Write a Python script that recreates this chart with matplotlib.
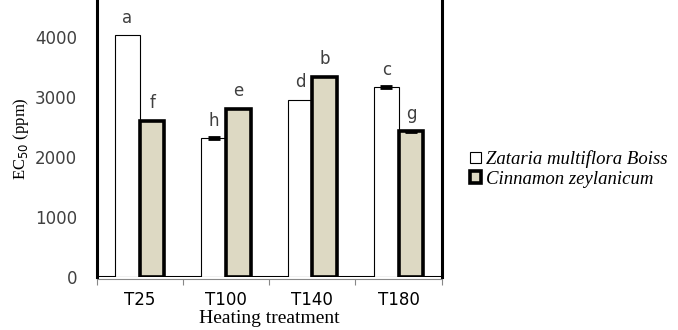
import numpy as np
import matplotlib
matplotlib.use("Agg")
import matplotlib.pyplot as plt
from matplotlib.patches import Patch

categories = ["T25", "T100", "T140", "T180"]
zataria = [4020, 2310, 2950, 3160]
cinnamon = [2600, 2800, 3330, 2420]
zataria_err = [0, 15, 0, 15]
cinnamon_err = [0, 0, 0, 10]
zataria_letters = ["a", "h", "d", "c"]
cinnamon_letters = ["f", "e", "b", "g"]
yticks = [0, 1000, 2000, 3000, 4000]

beige = "#DDD9C3"
txt = "#404040"

fig = plt.figure(figsize=(6.78, 3.30), dpi=100)
ax = fig.add_axes([0.1426, 0.1615, 0.5089, 0.8385])

x = np.arange(len(categories))
w = 0.285
ax.bar(x - w / 2, zataria, w, color="white", edgecolor="black", linewidth=0.8, zorder=2)
ax.bar(x + w / 2, cinnamon, w, color=beige, edgecolor="black", linewidth=2.6, zorder=3)

# only draw error bars that are non-zero
for i in range(len(categories)):
    if zataria_err[i] > 0:
        ax.errorbar(x[i] - w / 2, zataria[i], yerr=zataria_err[i], fmt="none", ecolor="black",
                    elinewidth=1.5, capsize=4, capthick=2, zorder=4)
    if cinnamon_err[i] > 0:
        ax.errorbar(x[i] + w / 2, cinnamon[i], yerr=cinnamon_err[i], fmt="none", ecolor="black",
                    elinewidth=1.5, capsize=4, capthick=2, zorder=4)

for i in range(len(categories)):
    ax.annotate(zataria_letters[i], (x[i] - w / 2, zataria[i]), xytext=(0, 6),
                textcoords="offset points", ha="center", va="bottom", fontsize=12, color=txt)
    ax.annotate(cinnamon_letters[i], (x[i] + w / 2, cinnamon[i]), xytext=(0, 6),
                textcoords="offset points", ha="center", va="bottom", fontsize=12, color=txt)

# thick zero line
ax.axhline(0, color="black", linewidth=2.2, zorder=1)

ax.set_xlim(-0.5, 3.5)
ax.set_ylim(0, 4610)
ax.set_yticks(yticks)
ax.set_yticklabels([str(v) for v in yticks], color=txt)
ax.tick_params(axis="y", length=0, pad=14, labelsize=12)

ax.set_xticks(np.arange(-0.5, 4, 1))
ax.set_xticklabels([])
ax.set_xticks(x, minor=True)
ax.set_xticklabels(categories, minor=True, color=txt)
ax.tick_params(axis="x", which="major", length=4, color="#888888", width=0.8)
ax.tick_params(axis="x", which="minor", length=0, pad=8, labelsize=12)

ax.spines["top"].set_visible(False)
ax.spines["left"].set_linewidth(2.2)
ax.spines["right"].set_linewidth(2.2)
ax.spines["bottom"].set_color("#888888")
ax.spines["bottom"].set_linewidth(0.8)
ax.spines["bottom"].set_position(("outward", 2))

ax.set_ylabel("EC$_{50}$ (ppm)", family="Liberation Serif", fontsize=12, labelpad=3)
ax.set_xlabel("Heating treatment", family="Liberation Serif", fontsize=14, labelpad=1)

handles = [Patch(facecolor="white", edgecolor="black", linewidth=0.8),
           Patch(facecolor=beige, edgecolor="black", linewidth=2.6)]
fig.legend(handles, ["Zataria multiflora Boiss", "Cinnamon zeylanicum"],
           loc="upper left", bbox_to_anchor=(0.668, 0.596), frameon=False,
           prop={"family": "Liberation Serif", "style": "italic", "size": 13.5},
           handlelength=0.6, handleheight=0.6, handletextpad=0.25, labelspacing=0.15)

plt.savefig("out.png", dpi=100)
